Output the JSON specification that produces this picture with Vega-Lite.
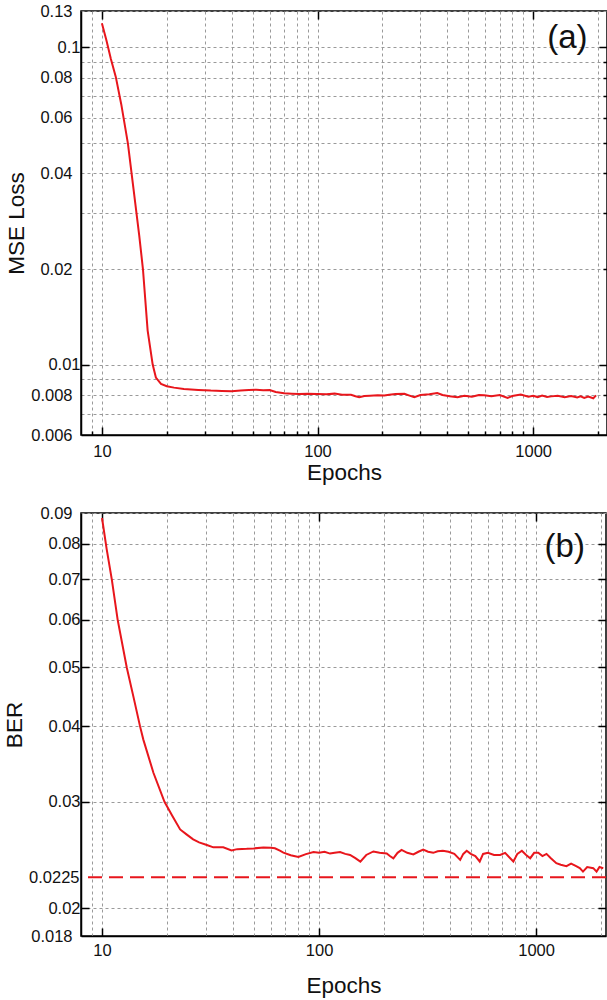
{
  "$schema": "https://vega.github.io/schema/vega-lite/v6.json",
  "padding": {"left": 2, "top": 2, "right": 0, "bottom": 0},
  "spacing": 19,
  "config": {
    "font": "Liberation Sans",
    "view": {"stroke": "#000", "strokeWidth": 1.5},
    "axis": {
      "labelFont": "Liberation Sans", "labelFontSize": 16.5, "labelColor": "#111",
      "titleFont": "Liberation Sans", "titleFontSize": 22.5, "titleFontWeight": "normal", "titleColor": "#111",
      "gridDash": [3, 3], "gridColor": "#9a9a9a", "gridWidth": 1,
      "domainColor": "#000", "domainWidth": 1.5,
      "tickColor": "#000", "tickWidth": 1.5
    }
  },
  "vconcat": [
    {
      "width": 526,
      "height": 424,
      "resolve": {"axis": {"x": "independent", "y": "independent"}},
      "layer": [
        {
          "data": {"values": [
            {"epoch": 10, "loss": 0.119}, {"epoch": 10.5, "loss": 0.105}, {"epoch": 11, "loss": 0.092},
            {"epoch": 11.6, "loss": 0.0806}, {"epoch": 12.3, "loss": 0.066}, {"epoch": 13.2, "loss": 0.0498},
            {"epoch": 14, "loss": 0.036}, {"epoch": 14.9, "loss": 0.0255}, {"epoch": 15.5, "loss": 0.02},
            {"epoch": 16.3, "loss": 0.0128}, {"epoch": 17.2, "loss": 0.01}, {"epoch": 17.8, "loss": 0.0091},
            {"epoch": 18.8, "loss": 0.00869}, {"epoch": 20, "loss": 0.00855}, {"epoch": 21.6, "loss": 0.00846},
            {"epoch": 24, "loss": 0.00838}, {"epoch": 28, "loss": 0.00832}, {"epoch": 32, "loss": 0.00828},
            {"epoch": 36, "loss": 0.00826}, {"epoch": 40, "loss": 0.00824}, {"epoch": 44, "loss": 0.00828},
            {"epoch": 48, "loss": 0.00831}, {"epoch": 52, "loss": 0.00833}, {"epoch": 56, "loss": 0.0083},
            {"epoch": 60, "loss": 0.00831}, {"epoch": 64, "loss": 0.0082}, {"epoch": 70, "loss": 0.00812},
            {"epoch": 76, "loss": 0.0081}, {"epoch": 82, "loss": 0.00808}, {"epoch": 90, "loss": 0.0081},
            {"epoch": 100, "loss": 0.00808}, {"epoch": 110, "loss": 0.00806}, {"epoch": 120, "loss": 0.0081},
            {"epoch": 130, "loss": 0.00804}, {"epoch": 143, "loss": 0.00803}, {"epoch": 150, "loss": 0.00795},
            {"epoch": 156, "loss": 0.00789}, {"epoch": 165, "loss": 0.00796}, {"epoch": 175, "loss": 0.00798},
            {"epoch": 190, "loss": 0.008}, {"epoch": 204, "loss": 0.00799}, {"epoch": 215, "loss": 0.00804},
            {"epoch": 230, "loss": 0.00808}, {"epoch": 253, "loss": 0.00809}, {"epoch": 265, "loss": 0.008},
            {"epoch": 281, "loss": 0.00789}, {"epoch": 300, "loss": 0.00802}, {"epoch": 330, "loss": 0.00806},
            {"epoch": 359, "loss": 0.00814}, {"epoch": 380, "loss": 0.00802}, {"epoch": 410, "loss": 0.00795},
            {"epoch": 446, "loss": 0.00789}, {"epoch": 480, "loss": 0.00797}, {"epoch": 520, "loss": 0.00792},
            {"epoch": 560, "loss": 0.00802}, {"epoch": 593, "loss": 0.008}, {"epoch": 640, "loss": 0.00795},
            {"epoch": 700, "loss": 0.00802}, {"epoch": 761, "loss": 0.00785}, {"epoch": 800, "loss": 0.00796},
            {"epoch": 876, "loss": 0.00805}, {"epoch": 950, "loss": 0.00792}, {"epoch": 1000, "loss": 0.00798},
            {"epoch": 1050, "loss": 0.0079}, {"epoch": 1100, "loss": 0.00799}, {"epoch": 1160, "loss": 0.0079},
            {"epoch": 1213, "loss": 0.00794}, {"epoch": 1300, "loss": 0.00798}, {"epoch": 1400, "loss": 0.00789},
            {"epoch": 1500, "loss": 0.00796}, {"epoch": 1600, "loss": 0.00788}, {"epoch": 1660, "loss": 0.00794},
            {"epoch": 1725, "loss": 0.00785}, {"epoch": 1800, "loss": 0.00793}, {"epoch": 1900, "loss": 0.00783},
            {"epoch": 1958, "loss": 0.008}
          ]},
          "mark": {"type": "line", "color": "#e8161c", "strokeWidth": 2, "clip": true},
          "encoding": {
            "x": {
              "field": "epoch", "type": "quantitative",
              "scale": {"type": "log", "domain": [8, 2200], "nice": false},
              "axis": {
                "title": "Epochs", "titlePadding": 2,
                "values": [9, 10, 20, 30, 40, 50, 60, 70, 80, 90, 100, 200, 300, 400, 500, 600, 700, 800, 900, 1000, 2000],
                "format": "d",
                "labelExpr": "(datum.value == 10 || datum.value == 100 || datum.value == 1000) ? datum.label : ''",
                "tickSize": {"condition": {"test": "datum.value == 10 || datum.value == 100 || datum.value == 1000", "value": -8}, "value": -4},
                "labelPadding": 16
              }
            },
            "y": {
              "field": "loss", "type": "quantitative",
              "scale": {"type": "log", "domain": [0.006, 0.13], "nice": false},
              "axis": {
                "title": "MSE Loss", "titlePadding": 2,
                "values": [0.006, 0.007, 0.008, 0.009, 0.01, 0.02, 0.03, 0.04, 0.05, 0.06, 0.07, 0.08, 0.09, 0.1, 0.13],
                "format": "~g",
                "labelExpr": "(datum.value == 0.007 || datum.value == 0.009 || datum.value == 0.03 || datum.value == 0.05 || datum.value == 0.07 || datum.value == 0.09) ? '' : datum.label",
                "tickSize": {"condition": {"test": "datum.value == 0.01 || datum.value == 0.1", "value": -8}, "value": 0},
                "labelPadding": 9
              }
            }
          }
        },
        {
          "data": {"values": [{"epoch": 1442, "loss": 0.1072, "tag": "(a)"}]},
          "mark": {"type": "text", "fontSize": 33, "font": "Liberation Sans", "color": "#111", "align": "center", "baseline": "middle"},
          "encoding": {
            "x": {
              "field": "epoch", "type": "quantitative",
              "axis": {"orient": "top", "title": null, "labels": false, "grid": false, "domain": false,
                       "values": [10, 100, 1000], "tickSize": -8}
            },
            "y": {
              "field": "loss", "type": "quantitative",
              "axis": {"orient": "right", "title": null, "labels": false, "grid": false, "domain": false,
                       "values": [0.007, 0.008, 0.009, 0.01, 0.02, 0.03, 0.04, 0.05, 0.06, 0.07, 0.08, 0.09, 0.1],
                       "tickSize": {"condition": {"test": "datum.value == 0.01 || datum.value == 0.1", "value": -8}, "value": -4}}
            },
            "text": {"field": "tag"}
          }
        }
      ]
    },
    {
      "width": 525,
      "height": 423,
      "resolve": {"axis": {"x": "independent", "y": "independent"}},
      "layer": [
        {
          "data": {"values": [
            {"epoch": 10, "ber": 0.0883}, {"epoch": 10.5, "ber": 0.0785}, {"epoch": 11.1, "ber": 0.0698},
            {"epoch": 11.8, "ber": 0.06}, {"epoch": 13, "ber": 0.05}, {"epoch": 14, "ber": 0.0445},
            {"epoch": 14.96, "ber": 0.04}, {"epoch": 15.5, "ber": 0.038}, {"epoch": 17.25, "ber": 0.0335},
            {"epoch": 19.4, "ber": 0.03}, {"epoch": 21, "ber": 0.0285}, {"epoch": 22.9, "ber": 0.027},
            {"epoch": 24.5, "ber": 0.0265}, {"epoch": 26.3, "ber": 0.026}, {"epoch": 28, "ber": 0.0257},
            {"epoch": 30.4, "ber": 0.02545}, {"epoch": 32.6, "ber": 0.02522}, {"epoch": 36.2, "ber": 0.02522},
            {"epoch": 39.5, "ber": 0.02493}, {"epoch": 42, "ber": 0.02505}, {"epoch": 46.4, "ber": 0.02508},
            {"epoch": 50, "ber": 0.02512}, {"epoch": 55.4, "ber": 0.0252}, {"epoch": 60, "ber": 0.02518},
            {"epoch": 62.6, "ber": 0.02513}, {"epoch": 66, "ber": 0.0249}, {"epoch": 68.5, "ber": 0.02472},
            {"epoch": 74, "ber": 0.02448}, {"epoch": 80.3, "ber": 0.02432}, {"epoch": 87, "ber": 0.02458},
            {"epoch": 94.3, "ber": 0.02478}, {"epoch": 100, "ber": 0.02472}, {"epoch": 106, "ber": 0.0248},
            {"epoch": 112.4, "ber": 0.02463}, {"epoch": 118, "ber": 0.0247}, {"epoch": 125, "ber": 0.02478},
            {"epoch": 132, "ber": 0.0246}, {"epoch": 139, "ber": 0.0245}, {"epoch": 147, "ber": 0.0242},
            {"epoch": 155, "ber": 0.02389}, {"epoch": 165, "ber": 0.0245}, {"epoch": 178, "ber": 0.02483},
            {"epoch": 190, "ber": 0.0247}, {"epoch": 205, "ber": 0.02463}, {"epoch": 212, "ber": 0.0244},
            {"epoch": 220, "ber": 0.02418}, {"epoch": 230, "ber": 0.0247}, {"epoch": 240, "ber": 0.02498},
            {"epoch": 255, "ber": 0.0247}, {"epoch": 272, "ber": 0.02455}, {"epoch": 287, "ber": 0.0248},
            {"epoch": 302, "ber": 0.02501}, {"epoch": 318, "ber": 0.0248}, {"epoch": 336, "ber": 0.0247},
            {"epoch": 352, "ber": 0.02485}, {"epoch": 372, "ber": 0.0249}, {"epoch": 395, "ber": 0.0248},
            {"epoch": 420, "ber": 0.0246}, {"epoch": 447, "ber": 0.02405}, {"epoch": 462, "ber": 0.0246},
            {"epoch": 479, "ber": 0.0249}, {"epoch": 500, "ber": 0.0246}, {"epoch": 525, "ber": 0.0244},
            {"epoch": 550, "ber": 0.0239}, {"epoch": 570, "ber": 0.0246}, {"epoch": 600, "ber": 0.0247},
            {"epoch": 640, "ber": 0.0245}, {"epoch": 683, "ber": 0.0245}, {"epoch": 720, "ber": 0.0247},
            {"epoch": 760, "ber": 0.0242}, {"epoch": 786, "ber": 0.0239}, {"epoch": 820, "ber": 0.0246},
            {"epoch": 860, "ber": 0.0249}, {"epoch": 900, "ber": 0.0245}, {"epoch": 940, "ber": 0.0242},
            {"epoch": 980, "ber": 0.0247}, {"epoch": 1024, "ber": 0.0247}, {"epoch": 1070, "ber": 0.0244},
            {"epoch": 1117, "ber": 0.0246}, {"epoch": 1170, "ber": 0.0242}, {"epoch": 1240, "ber": 0.02375},
            {"epoch": 1300, "ber": 0.0236}, {"epoch": 1380, "ber": 0.02348}, {"epoch": 1450, "ber": 0.0237},
            {"epoch": 1530, "ber": 0.02348}, {"epoch": 1590, "ber": 0.0233}, {"epoch": 1645, "ber": 0.023},
            {"epoch": 1720, "ber": 0.0234}, {"epoch": 1835, "ber": 0.0233}, {"epoch": 1900, "ber": 0.023},
            {"epoch": 1960, "ber": 0.0234}, {"epoch": 2040, "ber": 0.0233}
          ]},
          "mark": {"type": "line", "color": "#e8161c", "strokeWidth": 2, "clip": true},
          "encoding": {
            "x": {
              "field": "epoch", "type": "quantitative",
              "scale": {"type": "log", "domain": [8, 2100], "nice": false},
              "axis": {
                "title": "Epochs", "titlePadding": 16,
                "values": [9, 10, 20, 30, 40, 50, 60, 70, 80, 90, 100, 200, 300, 400, 500, 600, 700, 800, 900, 1000, 2000],
                "format": "d",
                "labelExpr": "(datum.value == 10 || datum.value == 100 || datum.value == 1000) ? datum.label : ''",
                "tickSize": {"condition": {"test": "datum.value == 10 || datum.value == 100 || datum.value == 1000", "value": -8}, "value": 0},
                "labelPadding": 14
              }
            },
            "y": {
              "field": "ber", "type": "quantitative",
              "scale": {"type": "log", "domain": [0.018, 0.09], "nice": false},
              "axis": {
                "title": "BER", "titlePadding": 2,
                "values": [0.018, 0.02, 0.0225, 0.03, 0.04, 0.05, 0.06, 0.07, 0.08, 0.09],
                "format": "~g",
                "gridOpacity": {"condition": {"test": "datum.value == 0.0225", "value": 0}, "value": 1},
                "tickSize": {"condition": {"test": "datum.value == 0.0225 || datum.value == 0.018 || datum.value == 0.09", "value": 0}, "value": -8},
                "labelPadding": {"condition": {"test": "datum.value == 0.0225", "value": 2}, "value": 9}
              }
            }
          }
        },
        {
          "data": {"values": [{"ber": 0.0225}]},
          "mark": {"type": "rule", "color": "#e8161c", "strokeWidth": 2, "strokeDash": [14, 7]},
          "encoding": {"y": {"field": "ber", "type": "quantitative", "axis": null}}
        },
        {
          "data": {"values": [{"epoch": 1355, "ber": 0.079, "tag": "(b)"}]},
          "mark": {"type": "text", "fontSize": 33, "font": "Liberation Sans", "color": "#111", "align": "center", "baseline": "middle"},
          "encoding": {
            "x": {
              "field": "epoch", "type": "quantitative",
              "axis": {"orient": "top", "title": null, "labels": false, "grid": false, "domain": false,
                       "values": [10, 100, 1000], "tickSize": -8}
            },
            "y": {
              "field": "ber", "type": "quantitative",
              "axis": {"orient": "right", "title": null, "labels": false, "grid": false, "domain": false,
                       "values": [0.02, 0.03, 0.04, 0.05, 0.06, 0.07, 0.08], "tickSize": -8}
            },
            "text": {"field": "tag"}
          }
        }
      ]
    }
  ]
}
